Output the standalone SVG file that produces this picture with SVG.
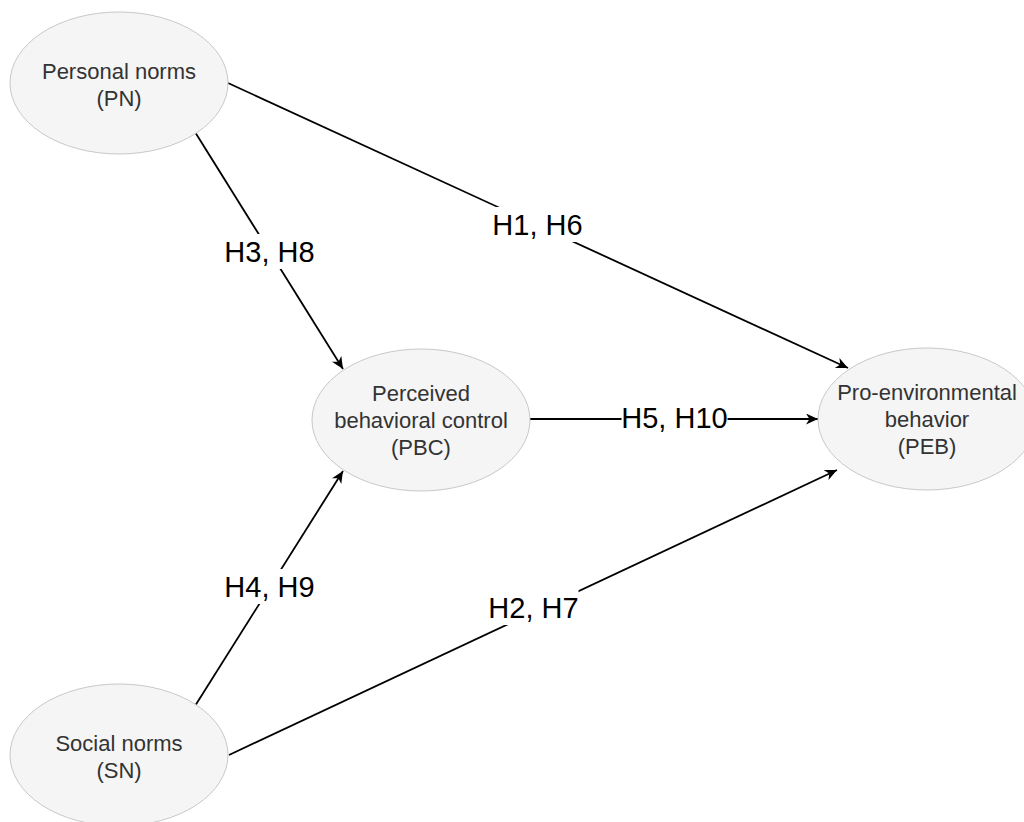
<svg xmlns="http://www.w3.org/2000/svg" width="1024" height="822" viewBox="0 0 1024 822">
<defs>
<style>
.node ellipse{fill:#f5f5f5;stroke:#c8c8c8;stroke-width:1}
.node text{font-family:"Liberation Sans",Arial,sans-serif;font-size:22px;fill:#333333;text-anchor:middle}
.edge{stroke:#000;stroke-width:1.8;fill:none}
.lbl rect{fill:#ffffff;stroke:none}
.lbl text{font-family:"Liberation Sans",Arial,sans-serif;font-size:29px;fill:#000;text-anchor:middle}
</style>
<marker id="arr" markerUnits="userSpaceOnUse" markerWidth="14" markerHeight="14" refX="12" refY="5.5" orient="auto">
<path d="M0,0 L12,5.5 L0,11 L3.5,5.5 Z" fill="#000"/>
</marker>
</defs>
<rect width="1024" height="822" fill="#ffffff"/>
<g id="connectors">
<line class="edge" x1="228" y1="83" x2="848" y2="368" marker-end="url(#arr)"/>
<line class="edge" x1="195" y1="132" x2="343" y2="369" marker-end="url(#arr)"/>
<line class="edge" x1="195" y1="706" x2="343" y2="471" marker-end="url(#arr)"/>
<line class="edge" x1="530" y1="419" x2="818" y2="419" marker-end="url(#arr)"/>
<line class="edge" x1="229" y1="755" x2="837" y2="470" marker-end="url(#arr)"/>
<g class="lbl" id="lbl-h1h6"><rect x="492.5" y="207" width="90" height="35"/><text x="537.5" y="235">H1, H6</text></g>
<g class="lbl" id="lbl-h3h8"><rect x="224.5" y="234" width="90" height="35"/><text x="269.5" y="262">H3, H8</text></g>
<g class="lbl" id="lbl-h4h9"><rect x="224.5" y="569" width="90" height="35"/><text x="269.5" y="597">H4, H9</text></g>
<g class="lbl" id="lbl-h5h10"><rect x="621.5" y="400" width="106" height="35"/><text x="674.5" y="428">H5, H10</text></g>
<g class="lbl" id="lbl-h2h7"><rect x="488.5" y="590" width="90" height="35"/><text x="533.5" y="618">H2, H7</text></g>
</g>
<g id="PN" class="node">
<ellipse cx="119" cy="83" rx="109" ry="71"/>
<text x="119" y="79">Personal norms</text>
<text x="119" y="106">(PN)</text>
</g>
<g id="SN" class="node">
<ellipse cx="119" cy="755" rx="109" ry="71"/>
<text x="119" y="751">Social norms</text>
<text x="119" y="778">(SN)</text>
</g>
<g id="PBC" class="node">
<ellipse cx="421" cy="420" rx="109" ry="71"/>
<text x="421" y="401">Perceived</text>
<text x="421" y="428">behavioral control</text>
<text x="421" y="455">(PBC)</text>
</g>
<g id="PEB" class="node">
<ellipse cx="927" cy="419" rx="109" ry="71"/>
<text x="927" y="400">Pro-environmental</text>
<text x="927" y="427">behavior</text>
<text x="927" y="454">(PEB)</text>
</g>
</svg>
